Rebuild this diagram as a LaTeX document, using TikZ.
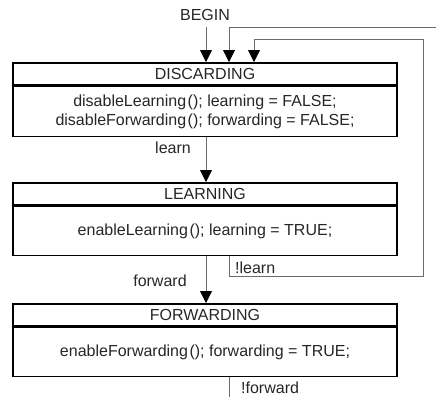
\documentclass[tikz,border=0pt]{standalone}
\usepackage{fontspec}
\setmainfont{Liberation Sans}
\usetikzlibrary{arrows.meta}
\newcommand{\pgap}{\hspace{1.5pt}}
\begin{document}
\begin{tikzpicture}[x=1pt,y=-1pt,
  every node/.style={font=\fontsize{16}{19}\selectfont, inner sep=0pt},
  hdr/.style={draw=black, line width=1.6pt, minimum width=384pt, minimum height=22pt, anchor=north},
  bdy/.style={draw=black, line width=1.6pt, minimum width=384pt, anchor=north, align=center},
  conn/.style={draw=gray!85!black, line width=0.8pt},
  arr/.style={conn, -{Triangle[width=12pt,length=12pt,black]}},
  lbl/.style={text=black!85}]
\useasboundingbox (0,0) rectangle (436,397);
% states
\node[hdr, text=black!85] (dh) at (205,62) {DISCARDING};
\node[bdy, text=black!85, minimum height=50pt] (db) at (dh.south) {disableLearning\pgap(); learning = FALSE;\\disableForwarding\pgap(); forwarding = FALSE;};
\node[hdr, text=black!85] (lh) at (205,182) {LEARNING};
\node[bdy, text=black!85, minimum height=49pt] (lb) at (lh.south) {enableLearning\pgap(); learning = TRUE;};
\node[hdr, text=black!85] (fh) at (205,303) {FORWARDING};
\node[bdy, text=black!85, minimum height=49pt] (fb) at (fh.south) {enableForwarding\pgap(); forwarding = TRUE;};
% begin
\node[lbl] (begin) at (205,15) {BEGIN};
\coordinate (e1) at (436,27);
\coordinate (c1) at (229,27);
\coordinate (l1) at (229,276);
\coordinate (l2) at (423,276);
\coordinate (l3) at (423,39);
\coordinate (l4) at (254,39);
\coordinate (e2) at (229,397);
% connectors
\draw[arr] (206,27) -- (dh.north -| 206,0);
\draw[arr] (e1) -- (c1) -- (dh.north -| c1);
\draw[arr] (lb.south -| l1) -- (l1) -- (l2) -- (l3) -- (l4) -- (dh.north -| l4);
\draw[arr] (db.south -| 206,0) -- (lh.north -| 206,0);
\draw[arr] (lb.south -| 206,0) -- (fh.north -| 206,0);
\draw[conn] (fb.south -| e2) -- (e2);
% labels
\node[lbl] (learn) at (173,148) {learn};
\node[lbl, anchor=west] (nlearn) at (235,268) {!learn};
\node[lbl] (fwd) at (160,281) {forward};
\node[lbl, anchor=west] (nfwd) at (241,388) {!forward};
\end{tikzpicture}
\end{document}
